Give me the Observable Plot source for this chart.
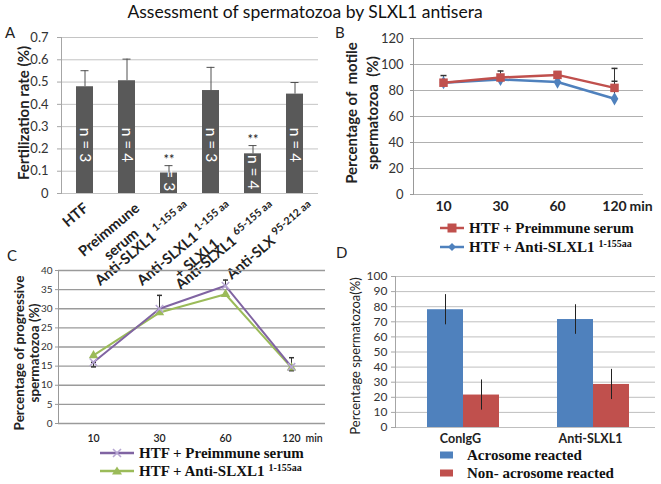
<!DOCTYPE html>
<html>
<head>
<meta charset="utf-8">
<script src="https://cdn.jsdelivr.net/npm/d3@7"></script>
<script src="https://cdn.jsdelivr.net/npm/@observablehq/plot@0.6"></script>
<style>
html,body{margin:0;padding:0;background:#fff;}
#root{position:relative;width:661px;height:484px;overflow:hidden;font-family:Lato,"Liberation Sans",sans-serif;color:#222;}
#root > *{position:absolute;}
.letter{font-size:15px;line-height:1;}
.ytitle{transform:translate(-50%,-50%) rotate(-90deg);white-space:nowrap;text-align:center;}
.leg{display:flex;align-items:center;height:20px;font-family:"Liberation Serif",serif;font-weight:bold;font-size:15px;white-space:nowrap;color:#111;}
.leg sup{font-size:10px;vertical-align:0.5em;line-height:0;margin-left:4px;}
.leg svg{margin-right:5px;}
</style>
</head>
<body>
<div id="root"></div>
<script>
// ---------- Panel A: fertilization rate ----------
const fertGroups = ["HTF", "Preimmune serum", "Anti-SLXL1 1-155 aa", "Anti-SLXL1 1-155 aa + SLXL1", "Anti-SLXL1 65-155 aa", "Anti-SLX 95-212 aa"];
const fertLabels = ["HTF", "Preimmune\nserum", "Anti-SLXL1 ^1-155 aa", "Anti-SLXL1 ^1-155 aa\n+ SLXL1", "Anti-SLXL1 ^65-155 aa", "Anti-SLX ^95-212 aa"];
const fertRate = [0.479, 0.506, 0.092, 0.462, 0.178, 0.446];
const fertErr = [0.072, 0.097, 0.033, 0.104, 0.037, 0.052];
const fertN = ["n = 3", "n = 4", "n = 3", "n = 3", "n = 4", "n = 4"];
const fertSig = ["", "", "**", "", "**", ""];
const fertTicks = [0, 0.1, 0.2, 0.3, 0.4, 0.5, 0.6, 0.7];

// ---------- Panel B: motile spermatozoa ----------
const timePoints = ["10", "30", "60", "120"];
const motilePre = [86, 90, 92, 82];
const motilePreErr = [5.5, 5, 2.5, 15];
const motileAnti = [86, 88.5, 86.5, 73.6];
const motileAntiErr = [0, 0, 0, 13.5];
const motileTicks = [0, 20, 40, 60, 80, 100, 120];

// ---------- Panel C: progressive spermatozoa ----------
const progPre = [16, 30, 36, 14.8];
const progPreErrUp = [0, 3.5, 1.5, 2.4];
const progPreErrDown = [1.2, 0, 0, 1];
const progAnti = [17.8, 29, 33.8, 14.6];
const progTicks = [0, 5, 10, 15, 20, 25, 30, 35, 40];

// ---------- Panel D: acrosome reaction ----------
const acroGroups = ["ConIgG", "Anti-SLXL1"];
const acroReacted = [78, 71.5];
const acroReactedErr = [10, 9.8];
const acroNon = [21.5, 28.5];
const acroNonErr = [10, 10];
const acroTicks = [0, 10, 20, 30, 40, 50, 60, 70, 80, 90, 100];

const RED = "#C0504D", BLUE = "#4F81BD", PURPLE = "#8064A2", GREEN = "#9BBB59";
const root = document.getElementById("root");

function place(el, left, top) { el.style.left = left + "px"; el.style.top = top + "px"; root.appendChild(el); return el; }
function div(html, cls, css) { const d = document.createElement("div"); if (cls) d.className = cls; d.innerHTML = html; if (css) d.style.cssText = css; return d; }

function applySup(svg, supSize) {
  svg.querySelectorAll("text").forEach(t => {
    const spans = t.querySelectorAll("tspan");
    const targets = spans.length ? [...spans] : [t];
    targets.forEach(el => {
      const s = el.textContent;
      if (!s.includes("^")) return;
      const [main, sup] = s.split("^");
      el.textContent = main;
      const ts = document.createElementNS("http://www.w3.org/2000/svg", "tspan");
      ts.setAttribute("baseline-shift", "super");
      ts.setAttribute("font-size", supSize);
      ts.textContent = sup;
      el.appendChild(ts);
    });
  });
}

const cap = {draw(ctx, size) { const r = Math.sqrt(size / Math.PI); ctx.moveTo(-r, 0); ctx.lineTo(r, 0); }};
const baseStyle = {fontFamily: "Lato, sans-serif", fontSize: "13px", overflow: "visible", background: "transparent", color: "#333"};

// Title
place(div("Assessment of spermatozoa by SLXL1 antisera", null, "width:610px;text-align:center;font-size:17.5px;line-height:20px;color:#111;"), 0, 2);

// ================= Panel A =================
const fertData = fertGroups.map((g, i) => ({g, label: fertLabels[i], v: fertRate[i], e: fertErr[i], n: fertN[i], sig: fertSig[i]}));
const ROT = 40, ang = ROT * Math.PI / 180;
const LABEL_SIZE = 14.5, SUP_SIZE = 10.5;
const mctx = document.createElement("canvas").getContext("2d");
function lineW(line) {
  const [m, s] = line.split("^");
  mctx.font = `bold ${LABEL_SIZE}px Lato`;
  let w = mctx.measureText(m).width;
  if (s) { mctx.font = `bold ${SUP_SIZE}px Lato`; w += mctx.measureText(s).width; }
  return w;
}
const labelMarks = fertData.map(d => {
  const Wd = Math.max(...d.label.split("\n").map(lineW));
  return Plot.text([d], {x: "g", y: () => 0, text: "label", rotate: -ROT, textAnchor: "middle", lineAnchor: "top",
    fontSize: LABEL_SIZE, fontWeight: "bold", fill: "#222", lineHeight: 1.3,
    dx: -10 + 0.2 * Wd - Math.cos(ang) * Wd / 2, dy: 6 + Math.sin(ang) * Wd / 2});
});
const plotA = Plot.plot({
  width: 330, height: 255, marginTop: 17, marginBottom: 82, marginLeft: 61, marginRight: 12,
  style: baseStyle,
  x: {type: "band", domain: fertGroups, paddingInner: 0.6, paddingOuter: 0.3, axis: null},
  y: {domain: [0, 0.7], axis: null},
  marks: [
    Plot.gridY(fertTicks, {stroke: "#c4c4c4", strokeOpacity: 1}),
    Plot.axisY(fertTicks, {tickSize: 4, tickPadding: 9, stroke: "#a6a6a6", color: "#333", fontSize: 13, label: null,
      tickFormat: d => d === 0 ? "0" : d.toFixed(1)}),
    Plot.frame({anchor: "left", stroke: "#a6a6a6"}),
    Plot.barY(fertData, {x: "g", y: "v", fill: "#595959"}),
    Plot.text(fertData, {x: "g", y: d => Math.min(0.14, Math.max(0.01, d.v - 0.16)), text: "n", rotate: 90, textAnchor: "end", fill: "white", fontSize: 15.5}),
    Plot.ruleX(fertData, {x: "g", y1: "v", y2: d => d.v + d.e, stroke: "#505050"}),
    Plot.tickY(fertData, {x: "g", y: d => d.v + d.e, insetLeft: 4.5, insetRight: 4.5, stroke: "#505050"}),
    Plot.text(fertData.filter(d => d.sig), {x: "g", y: d => d.v + d.e, text: "sig", dy: -6, fontSize: 13, fill: "#222"}),
    ...labelMarks
  ]
});
applySup(plotA, SUP_SIZE);
place(plotA, 0, 20);
place(div("A", "letter"), 5, 25);
place(div("Fertilization rate (%)", "ytitle", "font-weight:bold;font-size:15px;"), 23, 113);

// ================= Panel B =================
const bPre = timePoints.map((t, i) => ({t, v: motilePre[i], e: motilePreErr[i]}));
const bAnti = timePoints.map((t, i) => ({t, v: motileAnti[i], e: motileAntiErr[i]}));
const bErr = [...bPre, ...bAnti].filter(d => d.e > 0);
const plotB = Plot.plot({
  width: 331, height: 200, marginTop: 18, marginBottom: 26, marginLeft: 83, marginRight: 18,
  style: baseStyle,
  x: {type: "point", domain: timePoints, padding: 0.5, axis: null},
  y: {domain: [0, 120], axis: null},
  marks: [
    Plot.gridY(motileTicks, {stroke: "#b0b0b0", strokeOpacity: 1}),
    Plot.axisY(motileTicks, {tickSize: 3, tickPadding: 7, stroke: "#999", color: "#333", fontSize: 13, label: null}),
    Plot.frame({anchor: "left", stroke: "#999"}),
    Plot.ruleX(bErr, {x: "t", y1: "v", y2: d => d.v + d.e, stroke: "#333"}),
    Plot.dot(bErr, {x: "t", y: d => d.v + d.e, symbol: cap, r: 3, stroke: "#333", fill: "none"}),
    Plot.line(bAnti, {x: "t", y: "v", stroke: BLUE, strokeWidth: 2.5}),
    Plot.dot(bAnti, {x: "t", y: "v", symbol: "diamond", r: 4, fill: BLUE}),
    Plot.line(bPre, {x: "t", y: "v", stroke: RED, strokeWidth: 2.5}),
    Plot.dot(bPre, {x: "t", y: "v", symbol: "square", r: 4.8, fill: RED}),
    Plot.text(timePoints, {x: d => d, y: () => 0, dy: 12, text: d => d, fontWeight: "bold", fontSize: 14, fill: "#222"}),
    Plot.text([timePoints[3]], {x: d => d, y: () => 0, dy: 12, dx: 15, text: () => "min", textAnchor: "start", fontWeight: "bold", fontSize: 14, fill: "#222"})
  ]
});
place(plotB, 330, 20);
place(div("B", "letter"), 335, 25);
place(div("Percentage of&nbsp; motile<br>spermatozoa&nbsp; (%)", "ytitle", "font-weight:bold;font-size:15px;line-height:21px;"), 362, 113);

function swatchLine(color, symbol, w) {
  let m = "";
  const c = w / 2;
  if (symbol === "square") m = `<rect x="${c - 4.5}" y="5.5" width="9" height="9" fill="${color}"/>`;
  if (symbol === "diamond") m = `<path d="M${c} 6 L${c + 4} 10 L${c} 14 L${c - 4} 10Z" fill="${color}"/>`;
  if (symbol === "times") m = `<path d="M${c - 4} 6 L${c + 4} 14 M${c + 4} 6 L${c - 4} 14" stroke="#b7a6d3" stroke-width="1.6"/>`;
  if (symbol === "triangle") m = `<path d="M${c} 5.5 L${c + 5} 13.5 L${c - 5} 13.5Z" fill="${color}"/>`;
  return `<svg width="${w}" height="20"><line x1="0" x2="${w}" y1="10" y2="10" stroke="${color}" stroke-width="2.5"/>${m}</svg>`;
}
function swatchRect(color) { return `<svg width="14" height="20" style="margin-right:13px"><rect x="0" y="6.5" width="13" height="7" fill="${color}"/></svg>`; }

place(div(swatchLine(RED, "square", 24) + "<span>HTF + Preimmune serum</span>", "leg"), 440, 218);
place(div(swatchLine(BLUE, "diamond", 24) + "<span>HTF + Anti-SLXL1<sup>1-155aa</sup></span>", "leg"), 440, 237);

// ================= Panel C =================
const cPre = timePoints.map((t, i) => ({t, v: progPre[i], up: progPreErrUp[i], dn: progPreErrDown[i]}));
const cAnti = timePoints.map((t, i) => ({t, v: progAnti[i]}));
const cErr = cPre.filter(d => d.up > 0 || d.dn > 0);
const plotC = Plot.plot({
  width: 330, height: 195, marginTop: 15, marginBottom: 27, marginLeft: 58, marginRight: 5,
  style: baseStyle,
  x: {type: "point", domain: timePoints, padding: 0.5, axis: null},
  y: {domain: [0, 40], axis: null},
  marks: [
    Plot.gridY(progTicks, {stroke: "#9a9a9a", strokeOpacity: 1, strokeWidth: 1.3}),
    Plot.axisY(progTicks, {tickSize: 3, tickPadding: 3, stroke: "#999", color: "#333", fontSize: 10, label: null}),
    Plot.frame({anchor: "left", stroke: "#999"}),
    Plot.ruleX(cErr, {x: "t", y1: d => d.v - d.dn, y2: d => d.v + d.up, stroke: "#333"}),
    Plot.dot(cErr, {x: "t", y: d => d.v + d.up, symbol: cap, r: 2.5, stroke: "#333", fill: "none"}),
    Plot.dot(cErr.filter(d => d.dn > 0), {x: "t", y: d => d.v - d.dn, symbol: cap, r: 2.5, stroke: "#333", fill: "none"}),
    Plot.line(cAnti, {x: "t", y: "v", stroke: GREEN, strokeWidth: 2}),
    Plot.dot(cAnti, {x: "t", y: "v", symbol: "triangle", r: 3.5, fill: GREEN}),
    Plot.line(cPre, {x: "t", y: "v", stroke: PURPLE, strokeWidth: 2}),
    Plot.dot(cPre, {x: "t", y: "v", symbol: "times", r: 3.5, stroke: "#b7a6d3", strokeWidth: 1.5}),
    Plot.text(timePoints, {x: d => d, y: () => 0, dy: 15, text: d => d, fontWeight: 600, fontSize: 10.5, fill: "#222"}),
    Plot.text([timePoints[3]], {x: d => d, y: () => 0, dy: 15, dx: 14, text: () => "min", textAnchor: "start", fontWeight: 600, fontSize: 10.5, fill: "#222"})
  ]
});
place(plotC, 0, 255);
place(div("C", "letter"), 7, 248);
place(div("Percentage of progressive<br>spermatozoa (%)", "ytitle", "font-weight:bold;font-size:13.5px;line-height:15px;"), 27, 353);
place(div(swatchLine(PURPLE, "times", 34) + "<span>HTF + Preimmune serum</span>", "leg"), 100, 443);
place(div(swatchLine(GREEN, "triangle", 34) + "<span>HTF + Anti-SLXL1<sup>1-155aa</sup></span>", "leg"), 100, 461);

// ================= Panel D =================
const dData = acroGroups.map((g, i) => ({g, a: acroReacted[i], ae: acroReactedErr[i], n: acroNon[i], ne: acroNonErr[i]}));
const plotD = Plot.plot({
  width: 331, height: 190, marginTop: 16, marginBottom: 23, marginLeft: 65, marginRight: 6,
  style: baseStyle,
  x: {type: "band", domain: acroGroups, padding: 0, axis: null},
  y: {domain: [0, 100], axis: null},
  marks: [
    Plot.gridY(acroTicks, {stroke: "#bfbfbf", strokeOpacity: 1}),
    Plot.axisY(acroTicks, {tickSize: 4, tickPadding: 4, stroke: "#a6a6a6", color: "#333", fontSize: 12, label: null}),
    Plot.frame({anchor: "left", stroke: "#a6a6a6"}),
    Plot.barY(dData, {x: "g", y: "a", fill: BLUE, insetLeft: 32, insetRight: 62}),
    Plot.barY(dData, {x: "g", y: "n", fill: RED, insetLeft: 68, insetRight: 26}),
    Plot.ruleX(dData, {x: "g", y1: d => d.a - d.ae, y2: d => d.a + d.ae, dx: -15, stroke: "#222"}),
    Plot.ruleX(dData, {x: "g", y1: d => d.n - d.ne, y2: d => d.n + d.ne, dx: 21, stroke: "#222"}),
    Plot.text(acroGroups, {x: d => d, y: () => 0, dy: 11, text: d => d, fontWeight: "bold", fontSize: 12.5, fill: "#222"})
  ]
});
place(plotD, 330, 260);
place(div("D", "letter"), 336, 245);
place(div("Percentage spermatozoa(%)", "ytitle", "font-size:13px;"), 355, 356);
place(div(swatchRect(BLUE) + "<span>Acrosome reacted</span>", "leg"), 440, 445);
place(div(swatchRect(RED) + "<span>Non- acrosome reacted</span>", "leg"), 440, 463);
</script>
</body>
</html>
